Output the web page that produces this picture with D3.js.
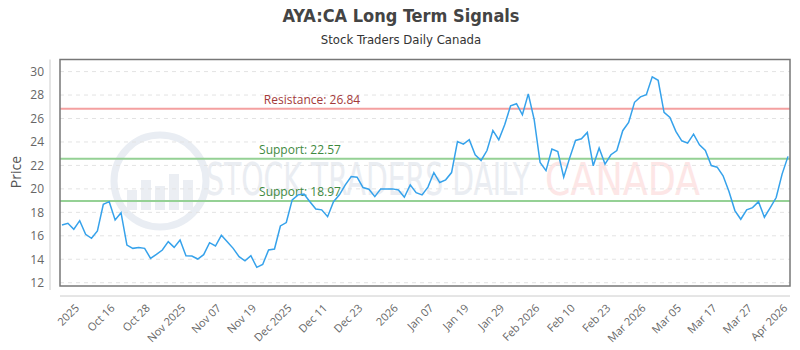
<!DOCTYPE html>
<html>
<head>
<meta charset="utf-8">
<script src="https://cdn.jsdelivr.net/npm/d3@7"></script>
<style>
  body { margin: 0; background: #fff; }
  svg text { font-family: "Open Sans", sans-serif; }
</style>
</head>
<body>
<svg id="chart" width="800" height="350"></svg>
<script>
// closing prices, one per trading day
var prices = [
  16.92, 17.07, 16.56, 17.29, 16.13, 15.79, 16.41, 18.69, 18.91, 17.35,
  17.97, 15.21, 14.93, 15.01, 14.93, 14.08, 14.42, 14.79, 15.50, 15.01,
  15.64, 14.30, 14.27, 14.02, 14.39, 15.41, 15.13, 16.04, 15.50, 14.93,
  14.22, 13.87, 14.30, 13.31, 13.56, 14.79, 14.87, 16.84, 17.13, 19.06,
  19.49, 19.55, 18.91, 18.29, 18.21, 17.63, 18.91, 19.49, 20.34, 21.05,
  21.00, 20.11, 19.97, 19.34, 20.00, 20.00, 20.00, 19.91, 19.29, 20.34,
  19.68, 19.49, 20.15, 21.39, 20.54, 20.77, 21.39, 24.04, 23.82, 24.19,
  22.91, 22.42, 23.27, 24.98, 24.19, 25.47, 27.09, 27.26, 26.32, 28.10,
  25.90, 22.25, 21.56, 23.39, 23.19, 21.00, 22.62, 24.13, 24.27, 24.81,
  21.97, 23.48, 22.11, 22.91, 23.27, 24.96, 25.67, 27.38, 27.84, 28.03,
  29.55, 29.26, 26.52, 26.09, 24.90, 24.10, 23.90, 24.67, 23.76, 23.27,
  21.99, 21.85, 21.11, 19.77, 18.15, 17.41, 18.21, 18.40, 18.91, 17.58,
  18.40, 19.26, 21.26, 22.77
];

var xTickLabels = ["2025", "Oct 16", "Oct 28", "Nov 2025", "Nov 07", "Nov 19", "Dec 2025",
  "Dec 11", "Dec 23", "2026", "Jan 07", "Jan 19", "Jan 29", "Feb 2026", "Feb 10",
  "Feb 23", "Mar 2026", "Mar 05", "Mar 17", "Mar 27", "Apr 2026"];

var yTicks = [12, 14, 16, 18, 20, 22, 24, 26, 28, 30];

var levels = [
  {label: "Resistance: 26.84", value: 26.84, kind: "res"},
  {label: "Support: 22.57", value: 22.57, kind: "sup"},
  {label: "Support: 18.97", value: 18.97, kind: "sup"}
];

var svg = d3.select("#chart");
var plot = {left: 60, right: 790, top: 59.5, bottom: 286};

var x = d3.scaleLinear().domain([0, prices.length - 1]).range([62, 788]);
var y = d3.scaleLinear().domain([11.72, 31.03]).range([plot.bottom, plot.top]);

// title
svg.append("text").attr("x", 401).attr("y", 22).attr("text-anchor", "middle")
  .style("font-family", "'Liberation Sans Narrow', 'DejaVu Sans Condensed', sans-serif")
  .style("font-weight", "bold").style("font-size", "18px").attr("fill", "#444")
  .text("AYA:CA Long Term Signals");
svg.append("text").attr("x", 401).attr("y", 44).attr("text-anchor", "middle")
  .style("font-family", "'Liberation Sans Narrow', 'DejaVu Sans Condensed', sans-serif")
  .style("font-size", "13px").attr("fill", "#333")
  .text("Stock Traders Daily Canada");

// watermark
var wm = svg.append("g");
wm.append("circle").attr("cx", 160).attr("cy", 181).attr("r", 46)
  .attr("fill", "none").attr("stroke", "#e9edf3").attr("stroke-width", 7);
[[132, 20], [146, 30], [160, 24], [174, 36], [188, 30]].forEach(function(b) {
  wm.append("rect").attr("x", b[0] - 5).attr("y", 210 - b[1]).attr("width", 10).attr("height", b[1])
    .attr("fill", "#ebeef3");
});
wm.append("text").attr("x", 206).attr("y", 195)
  .attr("textLength", 324).attr("lengthAdjust", "spacingAndGlyphs")
  .style("font-family", "'Liberation Sans Narrow', 'DejaVu Sans Condensed', sans-serif")
  .style("font-size", "44px").attr("fill", "#eaedf2").text("STOCK TRADERS DAILY");
wm.append("text").attr("x", 545).attr("y", 195)
  .attr("textLength", 155).attr("lengthAdjust", "spacingAndGlyphs")
  .style("font-family", "'Liberation Sans Narrow', 'DejaVu Sans Condensed', sans-serif")
  .style("font-size", "44px").attr("fill", "#fde6e6").text("CANADA");

// grid lines
svg.append("g").selectAll("line").data(yTicks).enter().append("line")
  .attr("x1", plot.left).attr("x2", plot.right)
  .attr("y1", function(d) { return y(d); }).attr("y2", function(d) { return y(d); })
  .attr("stroke", "#e3e3e3").attr("stroke-dasharray", "4,4");

// y axis
var yAxis = svg.append("g").attr("transform", "translate(50,0)")
  .call(d3.axisLeft(y).tickValues(yTicks).tickSize(0).tickPadding(6));
yAxis.select(".domain").attr("stroke", "#ccc").attr("d", "M0," + plot.top + "V" + (plot.bottom + 4));
yAxis.selectAll("text").style("font-size", "12px").attr("fill", "#666");

svg.append("text").attr("transform", "translate(21,172) rotate(-90)")
  .attr("text-anchor", "middle").style("font-size", "14px").attr("fill", "#555").text("Price");

// x axis
var tickIdx = xTickLabels.map(function(d, i) { return 3 + i * 6; });
var xAxis = svg.append("g").attr("transform", "translate(0,296)")
  .call(d3.axisBottom(x).tickValues(tickIdx).tickSize(0).tickPadding(0)
    .tickFormat(function(d, i) { return xTickLabels[i]; }));
xAxis.select(".domain").attr("stroke", "#ccc").attr("d", "M" + plot.left + ",0H" + plot.right);
xAxis.selectAll("text")
  .style("font-size", "11px").attr("fill", "#666")
  .attr("text-anchor", "end").attr("dy", "0.35em")
  .attr("transform", "translate(-3,10) rotate(-45)");

// support / resistance
var lv = svg.append("g");
lv.selectAll("line").data(levels).enter().append("line")
  .attr("x1", plot.left).attr("x2", plot.right)
  .attr("y1", function(d) { return y(d.value); }).attr("y2", function(d) { return y(d.value); })
  .attr("stroke", function(d) { return d.kind == "res" ? "#f4a0a0" : "#95d195"; })
  .attr("stroke-width", 2);
lv.selectAll("text").data(levels).enter().append("text")
  .attr("x", function(d) { return d.kind == "res" ? 312 : 300; })
  .attr("y", function(d) { return y(d.value) - 5; })
  .attr("text-anchor", "middle").style("font-size", "12px")
  .attr("fill", function(d) { return d.kind == "res" ? "#a33a3a" : "#3f8a3f"; })
  .text(function(d) { return d.label; });

// price line
var line = d3.line().x(function(d, i) { return x(i); }).y(function(d) { return y(d); });
svg.append("path").datum(prices).attr("d", line)
  .attr("fill", "none").attr("stroke", "#36a2eb").attr("stroke-width", 1.5);

// plot border
svg.append("rect").attr("x", plot.left).attr("y", plot.top)
  .attr("width", plot.right - plot.left).attr("height", plot.bottom - plot.top)
  .attr("fill", "none").attr("stroke", "#777").attr("stroke-width", 1.5);
</script>
</body>
</html>
